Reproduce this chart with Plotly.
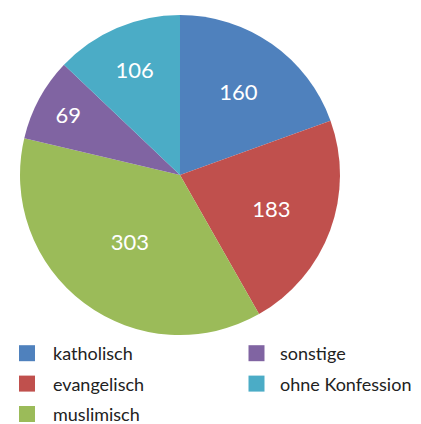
import plotly.graph_objects as go

labels = ["katholisch", "evangelisch", "muslimisch", "sonstige", "ohne Konfession"]
values = [160, 183, 303, 69, 106]
colors = ["#4F81BD", "#C0504D", "#9BBB59", "#8064A2", "#4BACC6"]
legend_col = ["legend", "legend", "legend", "legend2", "legend2"]

FONT = "Lato"
# the page body has an 8px margin, so the figure is drawn 8px in from the top-left
W, H = 413, 416

fig = go.Figure()
fig.add_trace(go.Pie(
    labels=labels, values=values, sort=False, direction="clockwise", rotation=0,
    marker=dict(colors=colors, line=dict(width=0)),
    textinfo="value", textposition="inside", insidetextorientation="horizontal",
    textfont=dict(family=FONT, size=22, color="white"),
    domain=dict(x=[12 / W, 332 / W], y=[1 - 327 / H, 1 - 7 / H]),
    showlegend=False, hoverinfo="label+value",
))

for lab, col, lg in zip(labels, colors, legend_col):
    fig.add_trace(go.Scatter(
        x=[None], y=[None], mode="markers", name=lab, legend=lg, legendgroup=lab,
        marker=dict(symbol="square", size=16, color=col),
    ))

leg_common = dict(yanchor="top", xanchor="left",
                  font=dict(family=FONT, size=18, color="#222222"),
                  tracegroupgap=4, traceorder="grouped",
                  bgcolor="rgba(0,0,0,0)")
fig.update_layout(
    width=W, height=H,
    margin=dict(l=0, r=0, t=0, b=0, autoexpand=False),
    paper_bgcolor="white", plot_bgcolor="white",
    xaxis=dict(visible=False), yaxis=dict(visible=False),
    legend=dict(x=-7 / W, y=1 - 327 / H, itemwidth=42, **leg_common),
    legend2=dict(x=225 / W, y=1 - 327 / H, itemwidth=37, **leg_common),
)

fig.write_html("out.html")
